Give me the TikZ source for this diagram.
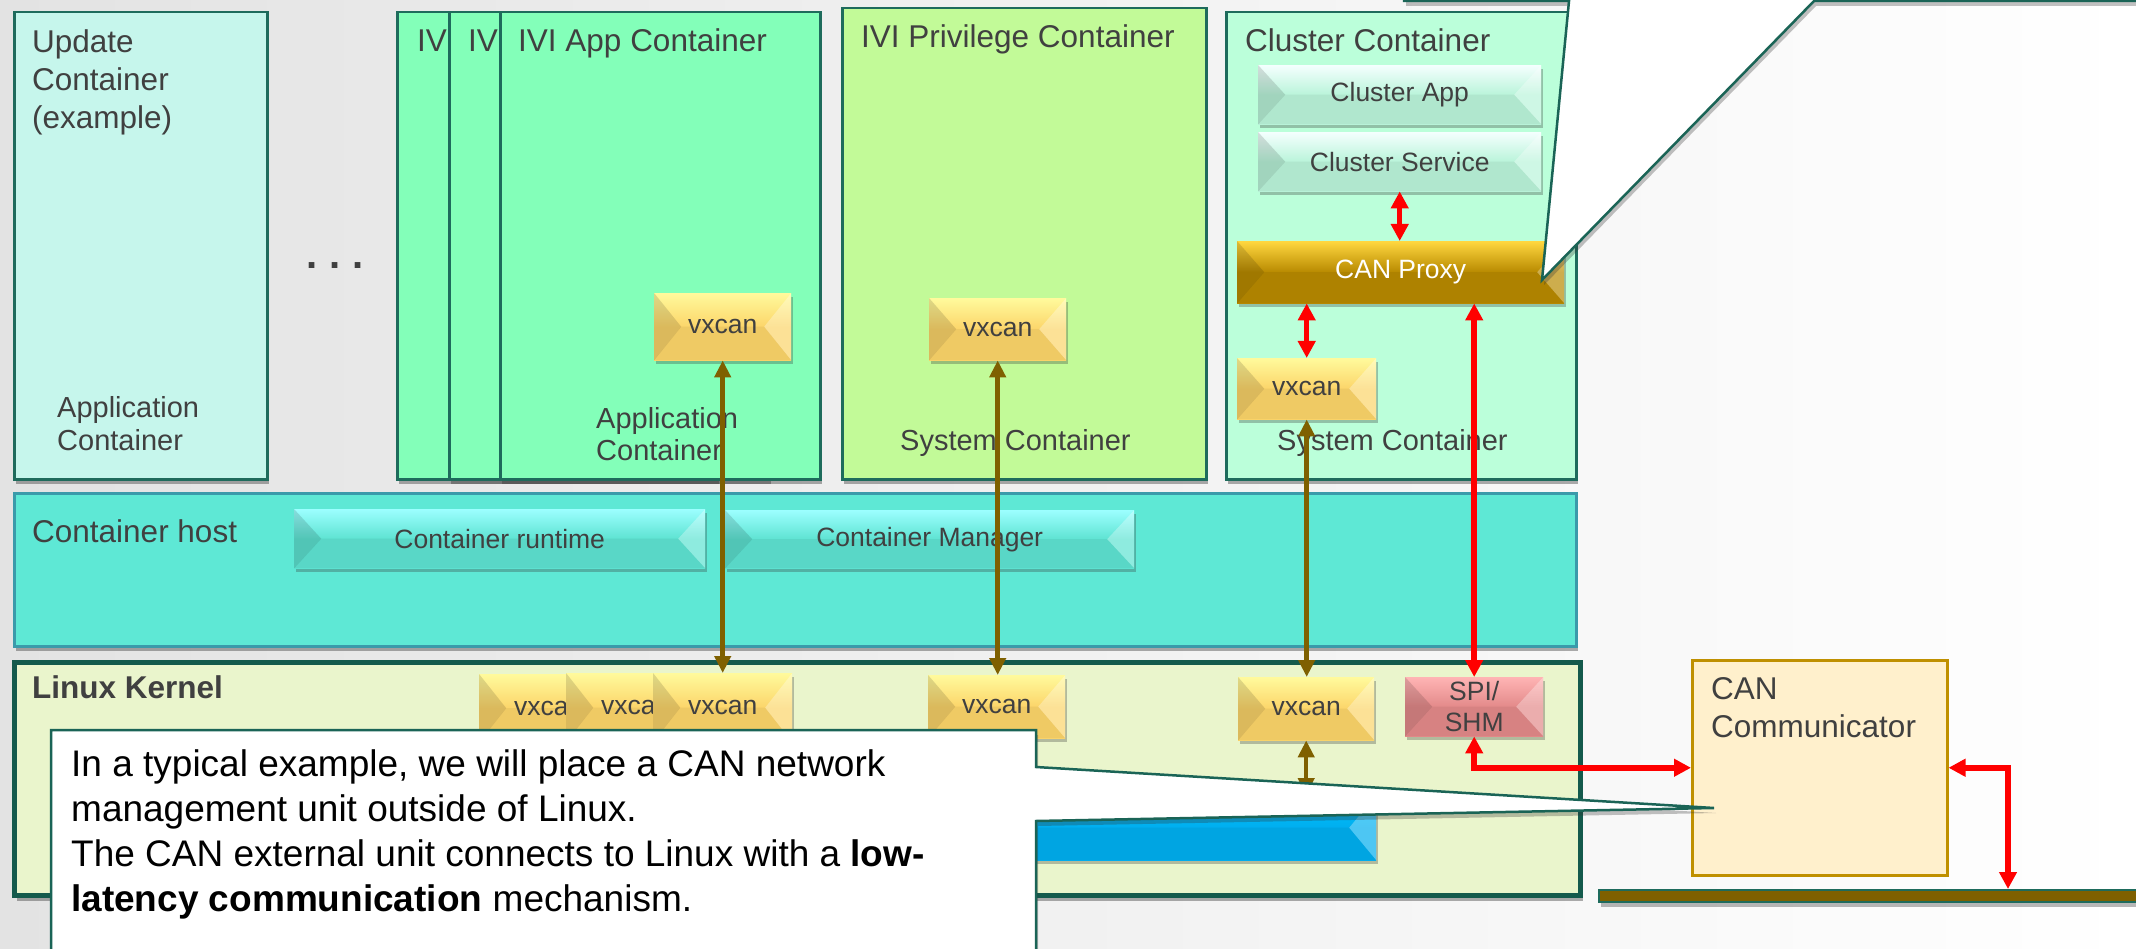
\documentclass[tikz,border=0pt]{standalone}
\usepackage{fontspec}
\setmainfont{Liberation Sans}
\usetikzlibrary{arrows.meta,shadows,calc}
\definecolor{txt}{HTML}{404040}
\definecolor{contb}{HTML}{1E6B5C}
\definecolor{hostb}{HTML}{3A9AAA}
\definecolor{kernb}{HTML}{145A4C}
\definecolor{calb}{HTML}{1A6456}
\definecolor{cupd}{HTML}{C6F6EC}
\definecolor{civi}{HTML}{83FFB9}
\definecolor{cpriv}{HTML}{C2FA98}
\definecolor{cclus}{HTML}{BBFFDA}
\definecolor{chost}{HTML}{5EE8D5}
\definecolor{ckern}{HTML}{EAF5CC}
\definecolor{cvx}{HTML}{FCD56A}
\definecolor{cvxl}{HTML}{FFFA9C}
\definecolor{cmint}{HTML}{BAF4DA}
\definecolor{cmintl}{HTML}{F4FFFE}
\definecolor{cprox}{HTML}{B88A00}
\definecolor{cproxl}{HTML}{FFD740}
\definecolor{cturq}{HTML}{5EE3D2}
\definecolor{cturql}{HTML}{9CFFFF}
\definecolor{cspi}{HTML}{E38A8A}
\definecolor{cspil}{HTML}{FFB4B4}
\definecolor{cblue}{HTML}{00AEEF}
\definecolor{cbluel}{HTML}{00C4FF}
\definecolor{ccan}{HTML}{FFF0CC}
\definecolor{ccanb}{HTML}{BF9000}
\definecolor{busc}{HTML}{7F6000}
\definecolor{brn}{HTML}{7F6000}
\definecolor{bgl}{HTML}{E3E3E3}
\tikzset{
  cont/.style={draw=contb, line width=2.5pt, anchor=north west, inner sep=0pt,
    drop shadow={shadow xshift=2pt, shadow yshift=-5pt, opacity=0.4, fill=black!80}},
  bev/.style 2 args={anchor=north west, inner sep=0pt, top color=#2, bottom color=#1, middle color=#1,
    text=txt, font=\fontsize{26.5}{31}\selectfont, align=center,
    drop shadow={shadow xshift=1.5pt, shadow yshift=-4pt, opacity=0.3, fill=black!80},
    path picture={
      \fill[black,opacity=0.13] (path picture bounding box.north west) -- ([xshift=27pt]path picture bounding box.west) -- (path picture bounding box.south west) -- cycle;
      \fill[white,opacity=0.3] (path picture bounding box.north east) -- ([xshift=-27pt]path picture bounding box.east) -- (path picture bounding box.south east) -- cycle;
      \fill[black,opacity=0.05] (path picture bounding box.south west) -- ([xshift=27pt]path picture bounding box.west) -- ([xshift=-27pt]path picture bounding box.east) -- (path picture bounding box.south east) -- cycle;
    }},
  ttl/.style={anchor=base west, inner sep=0pt, text=txt, font=\fontsize{31.5}{38}\selectfont},
  sub/.style={anchor=base west, inner sep=0pt, text=txt, font=\fontsize{29}{33}\selectfont},
  multi/.style={anchor=north west, inner sep=0pt, align=left, text=txt},
  brarr/.style={draw=brn, line width=4.5pt, {Triangle[width=16pt,length=17pt]}-{Triangle[width=16pt,length=17pt]}},
  redarr/.style={draw=red, line width=5.5pt, {Triangle[width=17pt,length=17pt]}-{Triangle[width=17pt,length=17pt]}},
  callout/.style={fill=white, draw=calb, line width=2.5pt,
    drop shadow={shadow xshift=2pt, shadow yshift=-5pt, opacity=0.3, fill=black!80}},
}
\begin{document}
\begin{tikzpicture}[x=1pt,y=-1pt]
\useasboundingbox (0,0) rectangle (2136,949);
\clip (0,0) rectangle (2136,949);
\shade[left color=bgl, right color=white] (0,0) rectangle (2136,949);

% Update container
\node[cont, fill=cupd, minimum width=253pt, minimum height=467pt] (upd) at (13,11) {};
\node[multi, font=\fontsize{31.5}{38}\selectfont] (updt) at (32,29) {Update\\Container\\(example)};
\node[multi, font=\fontsize{29}{33}\selectfont] (updapp) at (57,396) {Application\\Container};
\node[anchor=base, inner sep=0pt, text=txt, font=\fontsize{40}{40}\selectfont\bfseries] (dots) at (335,269) {.\hspace{12pt}.\hspace{12pt}.};

% IVI app containers
\node[cont, fill=civi, minimum width=320pt, minimum height=467pt] (ivi1) at (396,11) {};
\node[ttl] (ivi1t) at (417,52) {IV};
\node[cont, fill=civi, minimum width=320pt, minimum height=467pt] (ivi2) at (448,11) {};
\node[ttl] (ivi2t) at (468,52) {IV};
\node[cont, fill=civi, minimum width=320pt, minimum height=467pt] (ivi3) at (499,11) {};
\node[ttl] (ivi3t) at (518,52) {IVI App Container};
\node[bev={cvx}{cvxl}, minimum width=137pt, minimum height=67pt] (vx1) at (654,293) {vxcan};
\node[multi, font=\fontsize{29}{32}\selectfont] (iviapp) at (596,407) {Application\\Container};

% Privilege container
\node[cont, fill=cpriv, minimum width=364pt, minimum height=471pt] (priv) at (841,7) {};
\node[ttl] (privt) at (861,48) {IVI Privilege Container};
\node[bev={cvx}{cvxl}, minimum width=137pt, minimum height=62pt] (vx2) at (929,298) {vxcan};
\node[sub] (privs) at (900,450) {System Container};

% Cluster container
\node[cont, fill=cclus, minimum width=350pt, minimum height=467pt] (clus) at (1225,11) {};
\node[ttl] (clust) at (1245,52) {Cluster Container};
\node[bev={cmint}{cmintl}, minimum width=283pt, minimum height=59pt] (capp) at (1258,65) {Cluster App};
\node[bev={cmint}{cmintl}, minimum width=283pt, minimum height=59pt] (csvc) at (1258,132) {Cluster Service};
\node[bev={cprox}{cproxl}, minimum width=327pt, minimum height=62pt, text=white] (proxy) at (1237,241) {CAN Proxy};
\node[bev={cvx}{cvxl}, minimum width=139pt, minimum height=61pt] (vx3) at (1237,358) {vxcan};
\node[sub] (cluss) at (1277,450) {System Container};

% Container host
\node[cont, draw=hostb, fill=chost, minimum width=1562pt, minimum height=153pt] (host) at (13,492) {};
\node[ttl] (hostt) at (32,542) {Container host};
\node[bev={cturq}{cturql}, minimum width=411pt, minimum height=59pt] (crt) at (294,509) {Container runtime};
\node[bev={cturq}{cturql}, minimum width=409pt, minimum height=58pt] (cmgr) at (725,510) {Container Manager};

% Linux kernel
\node[cont, draw=kernb, line width=5pt, fill=ckern, minimum width=1566pt, minimum height=233pt] (kern) at (12,660) {};
\node[ttl, font=\fontsize{31.5}{38}\selectfont\bfseries] (kernt) at (32,698) {Linux Kernel};
\node[bev={cvx}{cvxl}, minimum width=139pt, minimum height=68pt] (k1) at (479,674) {vxcan};
\node[bev={cvx}{cvxl}, minimum width=139pt, minimum height=69pt] (k2) at (566,673) {vxcan};
\node[bev={cvx}{cvxl}, minimum width=139pt, minimum height=69pt] (k3) at (653,673) {vxcan};
\node[bev={cvx}{cvxl}, minimum width=137pt, minimum height=63pt] (kv2) at (928,675) {vxcan};
\node[bev={cvx}{cvxl}, minimum width=136pt, minimum height=63pt] (kv3) at (1238,677) {vxcan};
\node[bev={cspi}{cspil}, minimum width=138pt, minimum height=59pt] (spi) at (1405,677) {SPI/\\SHM};
\node[bev={cblue}{cbluel}, minimum width=906pt, minimum height=65pt] (blue) at (470,795) {};

% CAN communicator and bus
\node[draw=ccanb, line width=2.5pt, fill=ccan, anchor=north west, inner sep=0pt, minimum width=255pt, minimum height=215pt] (canc) at (1691,659) {};
\node[multi, font=\fontsize{31.5}{38}\selectfont] (canct) at (1711,677) {CAN\\Communicator};
\node[draw=contb, line width=2pt, fill=busc, anchor=north west, inner sep=0pt, minimum width=560pt, minimum height=12pt,
  drop shadow={shadow xshift=2pt, shadow yshift=-5pt, opacity=0.35, fill=black!80}] (bus) at (1598,889) {};
\coordinate (busdrop) at (2008,889);

% connectors
\draw[brarr] (vx1.south) -- (vx1.south |- k3.north);
\draw[brarr] (vx2.south) -- (vx2.south |- kv2.north);
\draw[brarr] (vx3.south) -- (vx3.south |- kv3.north);
\draw[brarr] (kv3.south) -- (kv3.south |- blue.north);
\draw[redarr] (csvc.south) -- (csvc.south |- proxy.north);
\draw[redarr] (vx3.north) -- (vx3.north |- proxy.south);
\draw[redarr] (spi.north) -- (spi.north |- proxy.south);
\draw[redarr] (spi.south) |- (canc.west);
\draw[redarr] (canc.east) -| (busdrop);

% callouts
\draw[callout] (1404,-40) -- (1404,1) -- (1569,1) -- (1542,280) -- (1814,1) -- (2200,1) -- (2200,-40) -- cycle;
\draw[callout] (51,730) -- (1036,730) -- (1036,767) -- (1714,808) -- (1036,821) -- (1036,1000) -- (51,1000) -- cycle;
\node[anchor=north west, inner sep=0pt, align=left, text=black, font=\fontsize{37}{45}\selectfont] (note) at (71,749)
  {In a typical example, we will place a CAN network\\management unit outside of Linux.\\The CAN external unit connects to Linux with a \textbf{low-}\\\textbf{latency communication} mechanism.};
\end{tikzpicture}
\end{document}
